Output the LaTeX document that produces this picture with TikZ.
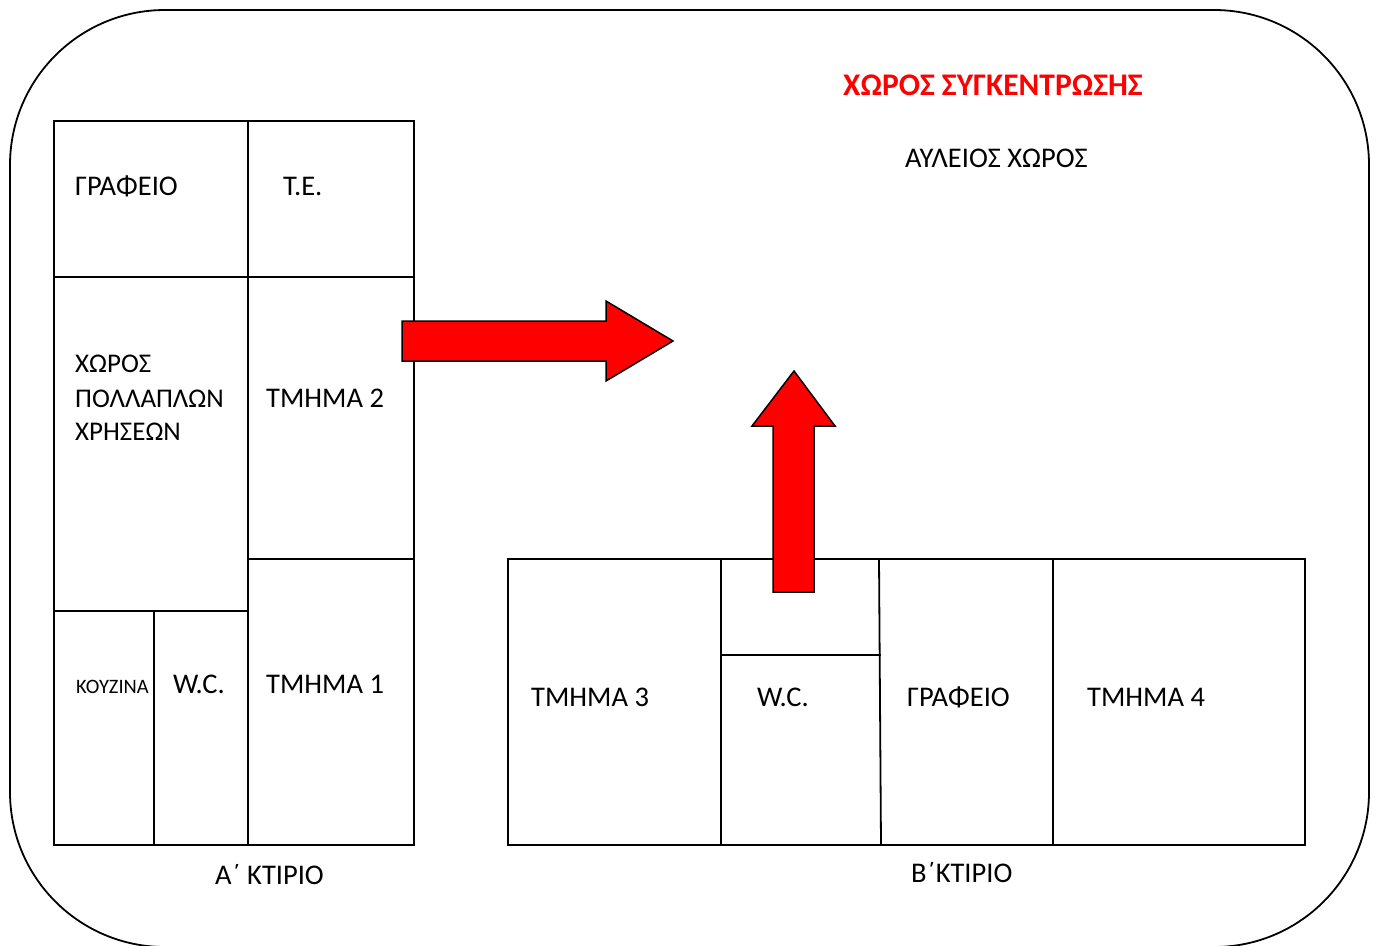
\documentclass[tikz,border=0pt]{standalone}
\usepackage{fontspec}
\setmainfont{Carlito}
\newcommand\lbfont{\fontsize{28.5bp}{34bp}\selectfont}
\newcommand\mpfont{\fontsize{27bp}{32bp}\selectfont}
\newcommand\smfont{\fontsize{20.5bp}{24bp}\selectfont}
\newcommand\ttlfont{\fontsize{31.5bp}{36bp}\selectfont\bfseries}
\begin{document}
\begin{tikzpicture}[x=1bp,y=-1bp,
  wall/.style={draw=black, line width=1.8bp},
  lbl/.style={anchor=base west, inner sep=0pt, font=\lbfont},
  mplbl/.style={anchor=base west, inner sep=0pt, font=\mpfont},
  smlbl/.style={anchor=base west, inner sep=0pt, font=\smfont},
  title/.style={anchor=base west, inner sep=0pt, font=\ttlfont, text=red},
  redarrow/.style={fill=red, draw=black, line width=1.5bp, line join=miter}]
\useasboundingbox (0,0) rectangle (1376,945);
% courtyard
\draw[wall, rounded corners=155bp] (10,10) rectangle (1369,947);
% building A
\draw[wall] (54,121) rectangle (414,845);
\draw[wall] (248,121) -- (248,845);
\draw[wall] (54,277) -- (414,277);
\draw[wall] (248,559) -- (414,559);
\draw[wall] (54,611) -- (248,611);
\draw[wall] (154,611) -- (154,845);
% building B
\draw[wall] (508,559) rectangle (1305,845);
\draw[wall] (721,559) -- (721,845);
\draw[wall] (879,559) -- (881,845);
\draw[wall] (1053,559) -- (1053,845);
\draw[wall] (721,655) -- (881,655);
% labels building A
\node[lbl] (a-office) at (75,195) {ΓΡΑΦΕΙΟ};
\node[lbl] (a-te) at (283,195) {Τ.Ε.};
\node[mplbl] (a-mp1) at (75,372) {ΧΩΡΟΣ};
\node[mplbl] (a-mp2) at (75,407) {ΠΟΛΛΑΠΛΩΝ};
\node[mplbl] (a-mp3) at (75,440) {ΧΡΗΣΕΩΝ};
\node[lbl] (a-t2) at (266,407) {ΤΜΗΜΑ 2};
\node[smlbl] (a-kitchen) at (76,693) {ΚΟΥΖΙΝΑ};
\node[lbl] (a-wc) at (173,693) {W.C.};
\node[lbl] (a-t1) at (266,693) {ΤΜΗΜΑ 1};
\node[lbl] (a-name) at (215,884) {Α΄ ΚΤΙΡΙΟ};
% labels building B
\node[lbl] (b-t3) at (531,706) {ΤΜΗΜΑ 3};
\node[lbl] (b-wc) at (757,706) {W.C.};
\node[lbl] (b-office) at (907,706) {ΓΡΑΦΕΙΟ};
\node[lbl] (b-t4) at (1087,706) {ΤΜΗΜΑ 4};
\node[lbl] (b-name) at (911,882) {Β΄ΚΤΙΡΙΟ};
% courtyard labels
\node[title] (gather) at (843,95) {ΧΩΡΟΣ ΣΥΓΚΕΝΤΡΩΣΗΣ};
\node[lbl] (yard) at (905,167) {ΑΥΛΕΙΟΣ ΧΩΡΟΣ};
% arrows
\draw[redarrow] (402,321) -- (606,321) -- (606,301) -- (673,341) -- (606,381) -- (606,361) -- (402,361) -- cycle;
\draw[redarrow] (773,592) -- (773,426) -- (752,426) -- (794,371) -- (835,426) -- (814,426) -- (814,592) -- cycle;
\end{tikzpicture}
\end{document}
